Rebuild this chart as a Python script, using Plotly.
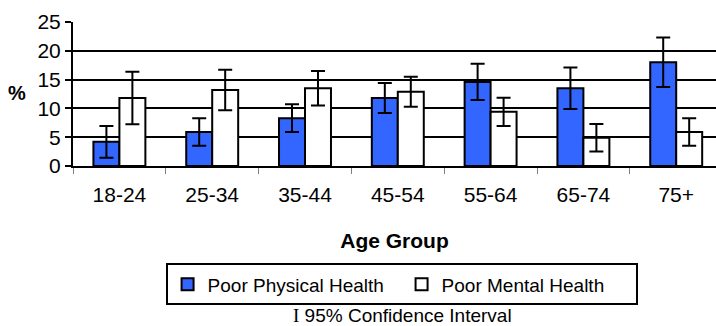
import plotly.graph_objects as go

# Age groups and prevalence estimates (%) with 95% CI half-widths
age_groups = ["18-24", "25-34", "35-44", "45-54", "55-64", "65-74", "75+"]
physical = [4.2, 5.9, 8.3, 11.8, 14.6, 13.5, 18.0]
physical_ci = [2.75, 2.4, 2.4, 2.6, 3.15, 3.6, 4.3]
mental = [11.8, 13.2, 13.5, 12.9, 9.4, 4.9, 5.9]
mental_ci = [4.55, 3.5, 3.0, 2.6, 2.45, 2.4, 2.4]
y_ticks = [0, 5, 10, 15, 20, 25]

FONT = "Liberation Sans, Arial, sans-serif"
W, H = 716, 326
ML, MR, MT, MB = 73, 0, 22, 160

err_style = dict(type="data", visible=True, color="black", thickness=2, width=7)

fig = go.Figure()
fig.add_trace(go.Bar(
    x=age_groups, y=physical, name="Poor Physical Health",
    marker=dict(color="#3366FF", line=dict(color="black", width=2)),
    error_y=dict(array=physical_ci, **err_style),
))
fig.add_trace(go.Bar(
    x=age_groups, y=mental, name="Poor Mental Health",
    marker=dict(color="white", line=dict(color="black", width=2)),
    error_y=dict(array=mental_ci, **err_style),
))

# category width in pixels, used to let the last group run to the page edge
cat_px = 92.8
plot_w = W - ML - MR
x_max = -0.5 + plot_w / cat_px

fig.update_layout(
    width=W, height=H,
    margin=dict(l=ML, r=MR, t=MT, b=MB, pad=0),
    paper_bgcolor="white", plot_bgcolor="white",
    font=dict(family=FONT, size=19, color="black"),
    barmode="group", bargap=0.44, bargroupgap=0,
    showlegend=True,
    legend=dict(
        orientation="h", x=0.511, xanchor="center", y=-0.677, yanchor="top",
        bordercolor="black", borderwidth=2, bgcolor="white",
        font=dict(family=FONT, size=19), entrywidth=189, itemwidth=30,
        traceorder="normal",
    ),
    xaxis=dict(
        type="category", range=[-0.5, x_max],
        showline=True, linecolor="black", linewidth=2,
        ticks="outside", tickson="boundaries", ticklen=6, tickcolor="#808080", tickwidth=1,
        tickfont=dict(family=FONT, size=21), ticklabelstandoff=9,
        showgrid=False,
        title=dict(text="<b>Age Group</b>", font=dict(family=FONT, size=21), standoff=28),
    ),
    yaxis=dict(
        range=[0, 25], tickvals=y_ticks,
        showline=True, linecolor="black", linewidth=2,
        ticks="outside", ticklen=6, tickcolor="black", tickwidth=2,
        showgrid=True, gridcolor="black", gridwidth=2,
        zeroline=False,
        tickfont=dict(family=FONT, size=21),
    ),
    annotations=[
        dict(text="<b>%</b>", xref="paper", yref="paper", x=-0.087, y=0.506,
             xanchor="center", yanchor="middle", showarrow=False,
             font=dict(family=FONT, size=20)),
        dict(text='<span style="font-family:Liberation Serif, Times New Roman, serif">I</span> 95% Confidence Interval',
             xref="paper", yref="paper", x=0.513, y=-1.035,
             xanchor="center", yanchor="middle", showarrow=False,
             font=dict(family=FONT, size=19)),
    ],
)

fig.write_html("out.html")
